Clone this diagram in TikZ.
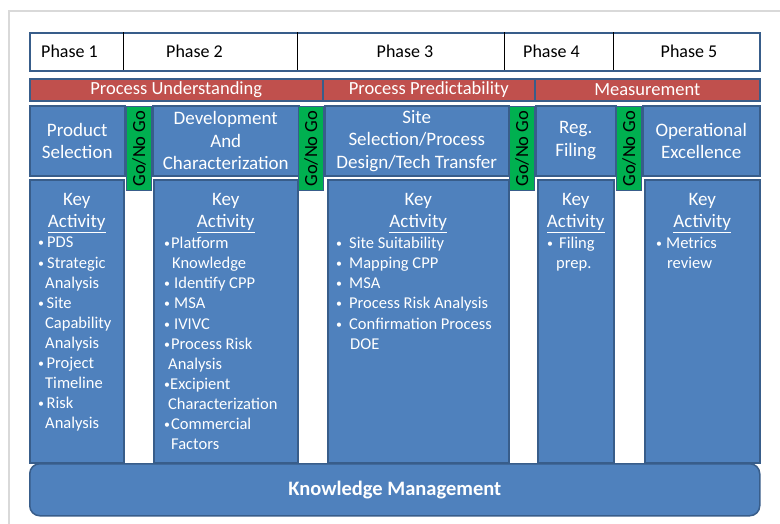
\documentclass[tikz,border=0pt]{standalone}
\usepackage{fontspec}
\usepackage{graphicx}
\setmainfont{Carlito}

\definecolor{boxblue}{HTML}{4F81BD}
\definecolor{edgeblue}{HTML}{385D8A}
\definecolor{bandred}{HTML}{C0504D}
\definecolor{gogreen}{HTML}{00B050}
\definecolor{framegray}{HTML}{D9D9D9}

% bullet line and its continuation
\newcommand{\kbul}{\raisebox{1pt}{\scalebox{0.72}{\textbullet}}}
\newcommand{\kitem}[2]{\makebox[#1][l]{\kbul}#2}
\newcommand{\kcont}[2]{\hspace*{#1}#2}

\begin{document}
\begin{tikzpicture}[x=1pt, y=-1pt,
  phasecell/.style={inner sep=0pt, font=\fontsize{18}{21}\selectfont},
  bandbox/.style={draw=edgeblue, line width=1.5pt, fill=bandred, text=white,
    inner sep=0pt, anchor=north west, minimum height=22,
    font=\fontsize{18.5}{21}\selectfont},
  stagebox/.style={draw=edgeblue, line width=1.5pt, fill=boxblue, text=white,
    inner sep=0pt, anchor=north west, align=center,
    font=\fontsize{19}{22.5}\selectfont},
  gobox/.style={draw=edgeblue, line width=1.2pt, fill=gogreen,
    inner sep=0pt, anchor=north west, minimum width=25, minimum height=84},
  gotext/.style={rotate=90, inner sep=0pt, font=\fontsize{18.5}{21}\selectfont},
  keytitle/.style={text=white, inner sep=0pt, anchor=north, align=center,
    font=\fontsize{19}{22}\selectfont},
  keylist/.style={text=white, inner sep=0pt, anchor=north west, align=left,
    font=\fontsize{16.5}{20.1}\selectfont}
]

  % Рамка и граници на картината
  \useasboundingbox (0,0) rectangle (780,523);
  \fill[white] (0,0) rectangle (780,523);
  \draw[framegray, line width=1.5pt] (9,524) -- (9,11) -- (781,11);

  % Ред с фазите
  \node[draw=edgeblue, line width=2.2pt, fill=white, anchor=north west,
    minimum width=730, minimum height=38, inner sep=0pt] (phaserow) at (29,32) {};
  \foreach \x in {123,297,504,613}
    \draw[line width=0.8pt] (\x,32) -- (\x,70);
  \foreach \n/\x in {1/69.5,2/194.5,3/405,4/551.5,5/689}
    \node[phasecell] (ph\n) at (\x,51) {Phase \n};

  % Червени ленти
  \node[bandbox, minimum width=293] (understand) at (29,78) {Process Understanding};
  \node[bandbox, minimum width=212] (predict) at (322,78) {Process Predictability};
  \node[bandbox, minimum width=225] (measure) at (534,78) {Measurement};

  % Етапи
  \node[stagebox, minimum width=95, minimum height=70] (prodsel) at (29,105)
    {Product\\Selection};
  \node[stagebox, minimum width=146, minimum height=70] (devchar) at (152,105)
    {Development\\And\\Characterization};
  \node[stagebox, minimum width=184, minimum height=70] (sitesel) at (324,105)
    {Site\\Selection/Process\\Design/Tech Transfer};
  \node[stagebox, minimum width=80, minimum height=70] (regfile) at (535,105)
    {Reg.\\Filing};
  \node[stagebox, minimum width=117, minimum height=70] (opex) at (642,105)
    {Operational\\Excellence};

  % Ключови дейности (фон)
  \node[stagebox, minimum width=94, minimum height=283] (key1) at (29,179) {};
  \node[stagebox, minimum width=144, minimum height=283] (key2) at (153,179) {};
  \node[stagebox, minimum width=181, minimum height=283] (key3) at (327,179) {};
  \node[stagebox, minimum width=76, minimum height=283] (key4) at (537,179) {};
  \node[stagebox, minimum width=115, minimum height=283] (key5) at (644,179) {};

  % Go/No Go
  \foreach \n/\x in {1/126,2/298,3/509,4/616}{
    \node[gobox] (go\n) at (\x,106) {};
    \node[gotext] (go\n txt) at (go\n) {Go/No Go};
  }

  % Заглавия "Key Activity"
  \foreach \n in {1,...,5}
    \node[keytitle] (title\n) at ([yshift=-14pt]key\n.north) {Key\\\underline{Activity}};

  % Списъци
  \node[keylist] (list1) at (38,237) {%
    \kitem{9pt}{PDS}\\
    \kitem{9pt}{Strategic}\\
    \kcont{7pt}{Analysis}\\
    \kitem{8.5pt}{Site}\\
    \kcont{7pt}{Capability}\\
    \kcont{7pt}{Analysis}\\
    \kitem{8.5pt}{Project}\\
    \kcont{7pt}{Timeline}\\
    \kitem{8.5pt}{Risk}\\
    \kcont{7pt}{Analysis}};
  \node[keylist] (list2) at (164,237) {%
    \kitem{7pt}{Platform}\\
    \kcont{8pt}{Knowledge}\\
    \kitem{10pt}{Identify CPP}\\
    \kitem{10pt}{MSA}\\
    \kitem{10pt}{IVIVC}\\
    \kitem{7pt}{Process Risk}\\
    \kcont{4pt}{Analysis}\\
    \kitem{6pt}{Excipient}\\
    \kcont{4pt}{Characterization}\\
    \kitem{7pt}{Commercial}\\
    \kcont{7pt}{Factors}};
  \node[keylist] (list3) at (336,237) {%
    \kitem{13pt}{Site Suitability}\\
    \kitem{13pt}{Mapping CPP}\\
    \kitem{13pt}{MSA}\\
    \kitem{13pt}{Process Risk Analysis}\\
    \kitem{13pt}{Confirmation Process}\\
    \kcont{14pt}{DOE}};
  \node[keylist] (list4) at (547,237) {%
    \kitem{12pt}{Filing}\\
    \kcont{9pt}{prep.}};
  \node[keylist] (list5) at (656,237) {%
    \kitem{10pt}{Metrics}\\
    \kcont{11pt}{review}};

  % Управление на знанието
  \node[draw=edgeblue, line width=1.5pt, fill=boxblue, rounded corners=10pt,
    anchor=north west, minimum width=730, minimum height=52, inner sep=0pt,
    text=white, font=\bfseries\fontsize{20.5}{24}\selectfont] (knowmgmt) at (29,463)
    {Knowledge Management};

\end{tikzpicture}
\end{document}
